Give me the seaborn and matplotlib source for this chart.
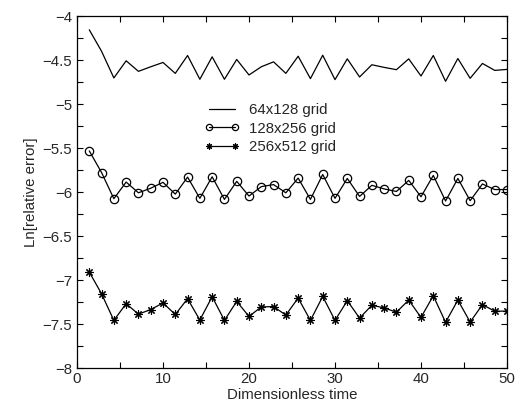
import numpy as np
import pandas as pd
import matplotlib
matplotlib.use("Agg")
import matplotlib.pyplot as plt
import seaborn as sns
from matplotlib.ticker import MultipleLocator, FuncFormatter

k = np.arange(1, 36)
time = 50.0 * k / 35.0

err_64 = [-4.157, -4.401, -4.704, -4.509, -4.629, -4.577, -4.528, -4.652, -4.449, -4.719,
          -4.464, -4.719, -4.494, -4.670, -4.577, -4.521, -4.652, -4.457, -4.712, -4.446,
          -4.723, -4.487, -4.693, -4.554, -4.584, -4.610, -4.487, -4.682, -4.449, -4.742,
          -4.483, -4.708, -4.539, -4.618, -4.607]
err_128 = [-5.533, -5.779, -6.076, -5.887, -6.009, -5.957, -5.890, -6.024, -5.831, -6.072,
           -5.827, -6.084, -5.879, -6.046, -5.939, -5.916, -6.009, -5.842, -6.084, -5.801,
           -6.072, -5.846, -6.050, -5.924, -5.965, -5.994, -5.868, -6.054, -5.812, -6.102,
           -5.846, -6.099, -5.909, -5.972, -5.972]
err_256 = [-6.910, -7.157, -7.459, -7.269, -7.388, -7.336, -7.261, -7.392, -7.213, -7.455,
           -7.190, -7.459, -7.243, -7.414, -7.306, -7.302, -7.399, -7.205, -7.459, -7.187,
           -7.459, -7.235, -7.433, -7.287, -7.317, -7.366, -7.228, -7.425, -7.179, -7.481,
           -7.228, -7.478, -7.280, -7.354, -7.354]
labels = ["64x128 grid", "128x256 grid", "256x512 grid"]

sns.set_style("ticks")
plt.rcParams["font.family"] = ["Liberation Sans", "DejaVu Sans"]
plt.rcParams["axes.unicode_minus"] = True

fs = 10.8
fig = plt.figure(figsize=(5.17, 4.16), dpi=100)
ax = fig.add_axes([77 / 517, 1 - 368 / 416, 430 / 517, 352 / 416])

sns.lineplot(x=time, y=err_64, ax=ax, color="black", lw=0.9, label=labels[0])
sns.lineplot(x=time, y=err_128, ax=ax, color="black", lw=0.9, marker="o",
             markersize=6, markerfacecolor="none", markeredgecolor="black",
             markeredgewidth=0.9, label=labels[1])
sns.lineplot(x=time, y=err_256, ax=ax, color="black", lw=0.9, marker=(8, 2, 0),
             markersize=6, markeredgecolor="black", markeredgewidth=0.8, label=labels[2])

ax.set_xlim(0, 50)
ax.set_ylim(-8, -4)
ax.xaxis.set_major_locator(MultipleLocator(10))
ax.xaxis.set_minor_locator(MultipleLocator(5))
ax.yaxis.set_major_locator(MultipleLocator(0.5))
ax.yaxis.set_minor_locator(MultipleLocator(0.25))
fmt = FuncFormatter(lambda v, p: ("%g" % v).replace("-", "\u2212"))
ax.xaxis.set_major_formatter(fmt)
ax.yaxis.set_major_formatter(fmt)
ax.tick_params(which="both", direction="in", top=True, right=True, labelsize=fs,
               color="black", width=0.8, length=4)
ax.tick_params(axis="x", pad=3)
for s in ax.spines.values():
    s.set_linewidth(0.9)
    s.set_color("black")
ax.set_xlabel("Dimensionless time", fontsize=fs, labelpad=1)
ax.set_ylabel("Ln[relative error]", fontsize=fs, labelpad=3)

leg = ax.legend(loc="upper left", bbox_to_anchor=(204 / 517, 1 - 103 / 416),
                bbox_transform=fig.transFigure, frameon=False, fontsize=fs,
                numpoints=2, handlelength=2.35, handletextpad=0.65, labelspacing=0.3,
                borderpad=0, borderaxespad=0, markerscale=0.75)
fig.savefig("out.png", dpi=100)
